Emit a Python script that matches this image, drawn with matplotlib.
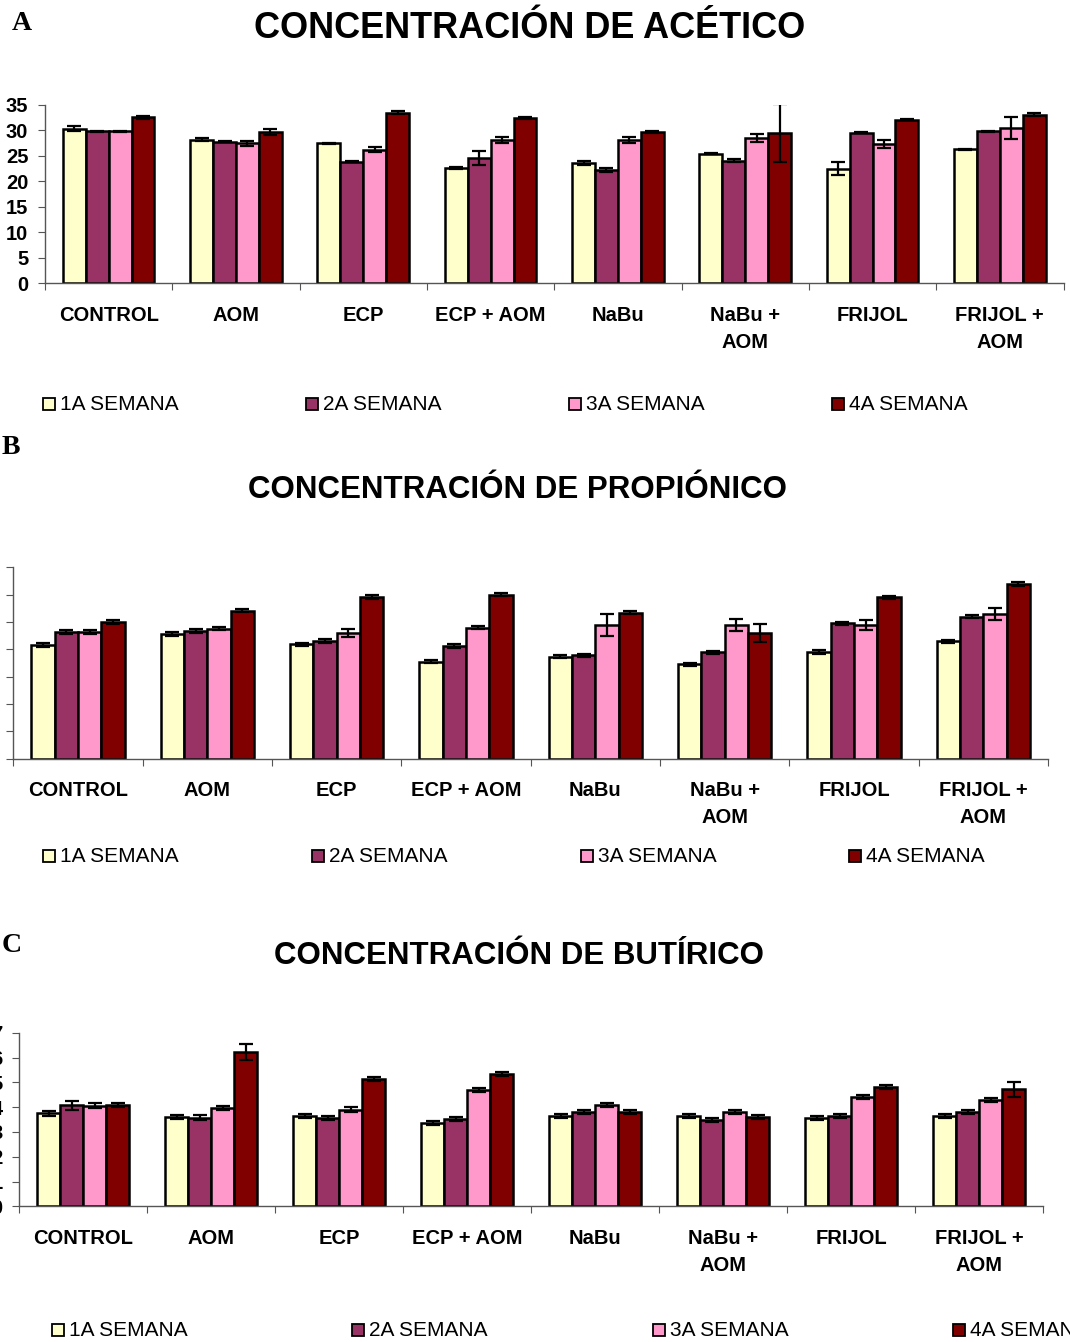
import matplotlib
matplotlib.use('Agg')
from matplotlib import pyplot as plt
from matplotlib.patches import Rectangle
import numpy as np

plt.rcParams['font.family'] = ['Liberation Sans', 'DejaVu Sans']

groups = ['CONTROL', 'AOM', 'ECP', 'ECP + AOM', 'NaBu', 'NaBu +\nAOM',
          'FRIJOL', 'FRIJOL +\nAOM']
weeks = ['1A SEMANA', '2A SEMANA', '3A SEMANA', '4A SEMANA']
colors = ['#FFFFCC', '#993366', '#FF99CC', '#800000']

# acetico, one list per week (same order as groups)
acet_w1 = [30.3, 28.2, 27.5, 22.6, 23.6, 25.4, 22.5, 26.3]
acet_w2 = [29.8, 27.8, 23.9, 24.6, 22.3, 24.1, 29.6, 29.8]
acet_w3 = [29.8, 27.5, 26.2, 28.2, 28.2, 28.5, 27.4, 30.5]
acet_w4 = [32.6, 29.7, 33.5, 32.4, 29.7, 29.5, 32.1, 33.1]
acet_e1 = [0.5, 0.3, 0.1, 0.2, 0.4, 0.1, 1.3, 0.1]
acet_e2 = [0.1, 0.1, 0.1, 1.3, 0.4, 0.3, 0.1, 0.1]
acet_e3 = [0.1, 0.5, 0.5, 0.6, 0.6, 0.8, 0.8, 2.1]
acet_e4 = [0.3, 0.6, 0.3, 0.2, 0.2, 5.6, 0.1, 0.3]

# propionico
prop_w1 = [4.15, 4.56, 4.18, 3.55, 3.73, 3.45, 3.90, 4.29]
prop_w2 = [4.63, 4.67, 4.30, 4.13, 3.78, 3.89, 4.95, 5.20]
prop_w3 = [4.63, 4.76, 4.59, 4.79, 4.89, 4.89, 4.88, 5.29]
prop_w4 = [5.00, 5.41, 5.90, 6.00, 5.34, 4.60, 5.90, 6.39]
prop_e1 = [0.08, 0.08, 0.06, 0.06, 0.06, 0.06, 0.06, 0.06]
prop_e2 = [0.08, 0.08, 0.07, 0.07, 0.06, 0.06, 0.06, 0.06]
prop_e3 = [0.08, 0.07, 0.14, 0.06, 0.40, 0.21, 0.18, 0.21]
prop_e4 = [0.07, 0.06, 0.07, 0.06, 0.06, 0.33, 0.06, 0.06]

# butirico
but_w1 = [3.75, 3.59, 3.64, 3.35, 3.64, 3.64, 3.56, 3.64]
but_w2 = [4.07, 3.58, 3.58, 3.51, 3.80, 3.48, 3.63, 3.80]
but_w3 = [4.06, 3.98, 3.90, 4.70, 4.10, 3.80, 4.39, 4.30]
but_w4 = [4.09, 6.21, 5.12, 5.32, 3.80, 3.60, 4.81, 4.72]
but_e1 = [0.10, 0.08, 0.08, 0.08, 0.08, 0.08, 0.08, 0.08]
but_e2 = [0.17, 0.10, 0.08, 0.08, 0.08, 0.08, 0.08, 0.08]
but_e3 = [0.10, 0.08, 0.10, 0.08, 0.08, 0.08, 0.08, 0.08]
but_e4 = [0.08, 0.32, 0.08, 0.08, 0.08, 0.08, 0.08, 0.30]

fig = plt.figure(figsize=(10.7, 13.42), dpi=100)
W, H = 1070.0, 1342.0


def draw_panel(rect, series, errs, ymax, ystep, ylabels):
    ax = fig.add_axes(rect)
    x = np.arange(len(groups))
    bw = 0.18
    for i in range(4):
        ax.bar(x + (i - 1.5) * bw, series[i], bw, color=colors[i],
               edgecolor='black', linewidth=1.8, zorder=2)
        ax.errorbar(x + (i - 1.5) * bw, series[i], yerr=errs[i], fmt='none',
                    ecolor='black', elinewidth=1.6, capsize=5, capthick=1.6,
                    zorder=3)
    ax.set_xlim(-0.5, len(groups) - 0.5)
    ax.set_ylim(0, ymax)
    ax.set_yticks(np.arange(0, ymax + 0.01, ystep))
    if ylabels:
        ax.set_yticklabels(['%g' % v for v in np.arange(0, ymax + 0.01, ystep)],
                           fontsize=14.5, fontweight='bold')
    else:
        ax.set_yticklabels([])
    ax.set_xticks(np.arange(-0.5, len(groups)), labels=[])
    ax.set_xticks(x, labels=groups, minor=True)
    ax.tick_params(axis='x', which='major', direction='out', length=5,
                   color='#555555')
    ax.tick_params(axis='x', which='minor', length=0, pad=16, labelsize=14.5)
    for lab in ax.get_xticklabels(minor=True):
        lab.set_fontweight('bold')
        lab.set_linespacing(1.55)
    ax.tick_params(axis='y', direction='out', length=5, color='#555555',
                   pad=7)
    for s in ['top', 'right']:
        ax.spines[s].set_visible(False)
    for s in ['left', 'bottom']:
        ax.spines[s].set_color('#555555')
        ax.spines[s].set_linewidth(1.0)
    return ax


def draw_legend(xs, yc):
    sz = 12
    for i in range(4):
        fig.add_artist(Rectangle((xs[i] / W, 1 - (yc + sz / 2) / H), sz / W,
                                 sz / H, transform=fig.transFigure,
                                 facecolor=colors[i], edgecolor='black',
                                 linewidth=1.3))
        fig.text((xs[i] + sz + 5) / W, 1 - yc / H, weeks[i], fontsize=15,
                 ha='left', va='center')


def px_rect(left, right, top, bottom):
    return [left / W, 1 - bottom / H, (right - left) / W, (bottom - top) / H]


# panel A
draw_panel(px_rect(45, 1063.5, 105, 283.3),
           [acet_w1, acet_w2, acet_w3, acet_w4],
           [acet_e1, acet_e2, acet_e3, acet_e4], 35, 5, True)
fig.text(530 / W, 1 - 28 / H, 'CONCENTRACIÓN DE ACÉTICO', fontsize=26,
         fontweight='bold', ha='center', va='center')
fig.text(12 / W, 1 - 23 / H, 'A', fontsize=20, fontweight='bold',
         family='Liberation Serif', ha='left', va='center')
draw_legend([43, 306, 569, 832], 404)

# panel B
draw_panel(px_rect(13.3, 1048, 567.3, 758.7),
           [prop_w1, prop_w2, prop_w3, prop_w4],
           [prop_e1, prop_e2, prop_e3, prop_e4], 7, 1, False)
fig.text(518 / W, 1 - 490 / H, 'CONCENTRACIÓN DE PROPIÓNICO', fontsize=22.5,
         fontweight='bold', ha='center', va='center')
fig.text(2 / W, 1 - 447 / H, 'B', fontsize=20, fontweight='bold',
         family='Liberation Serif', ha='left', va='center')
draw_legend([43, 312, 581, 849], 856)

# panel C
draw_panel(px_rect(19.3, 1043.3, 1032.7, 1206.3),
           [but_w1, but_w2, but_w3, but_w4],
           [but_e1, but_e2, but_e3, but_e4], 7, 1, True)
fig.text(519 / W, 1 - 956 / H, 'CONCENTRACIÓN DE BUTÍRICO', fontsize=22.5,
         fontweight='bold', ha='center', va='center')
fig.text(2 / W, 1 - 945 / H, 'C', fontsize=20, fontweight='bold',
         family='Liberation Serif', ha='left', va='center')
draw_legend([52, 352, 653, 953], 1330)

fig.savefig('out.png', dpi=100)
